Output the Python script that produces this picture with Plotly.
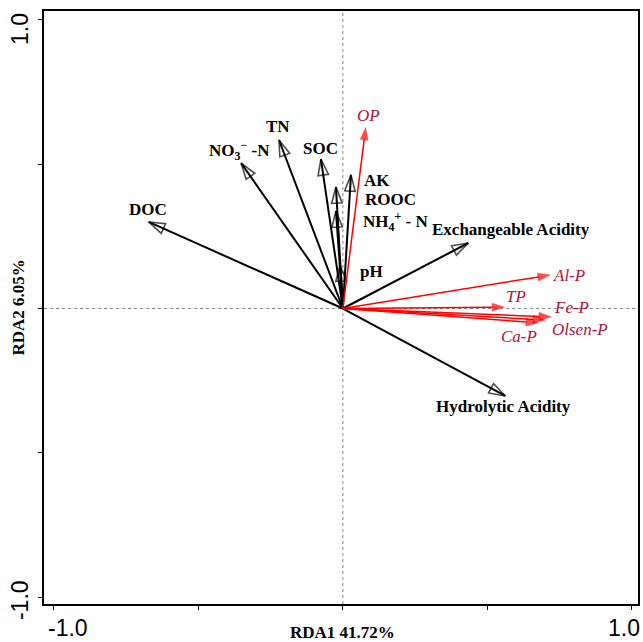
import plotly.graph_objects as go

# ---- data (RDA loadings) ----
env_names = ["DOC", "NO<sub>3</sub><sup>−</sup> -N", "TN", "SOC", "AK", "ROOC",
             "NH<sub>4</sub><sup>+</sup> - N", "pH", "Exchangeable Acidity", "Hydrolytic Acidity"]
env_x = [-0.672, -0.352, -0.221, -0.076, 0.028, -0.024, -0.024, -0.010, 0.434, 0.562]
env_y = [0.300, 0.504, 0.584, 0.518, 0.463, 0.421, 0.338, 0.151, 0.227, -0.303]

p_names = ["OP", "Al-P", "TP", "Fe-P", "Olsen-P", "Ca-P"]
p_x = [0.079, 0.717, 0.559, 0.721, 0.700, 0.676]
p_y = [0.627, 0.116, 0.005, -0.029, -0.040, -0.050]

x_title = "RDA1 41.72%"
y_title = "RDA2 6.05%"
tick_vals = [-1.0, -0.5, 0.0, 0.5, 1.0]

# ---- label offsets (px) relative to arrow tips ----
env_off = [(-1, 12), (-2, 13), (-1, 13), (0, 11), (26, -6), (55, -12), (60, -11),
           (32, -7), (43, 14), (-2, -11)]
p_off = [(3, 12), (19, 0), (12, 11), (20, 9), (35, -9), (-19, -14)]

BLACK = "black"
RED_LINE = "#FF0000"
RED_TXT = "#B4123C"
SERIF = "Liberation Serif, Times New Roman, serif"

fig = go.Figure()

for nm, x, y in zip(env_names, env_x, env_y):
    fig.add_trace(go.Scatter(
        x=[0, x], y=[0, y], mode="lines+markers", hoverinfo="skip", showlegend=False,
        line=dict(color=BLACK, width=2),
        marker=dict(symbol="arrow-open", size=[0, 17], angleref="previous",
                    color=BLACK, line=dict(color=BLACK, width=1.6))))

for nm, x, y in zip(p_names, p_x, p_y):
    fig.add_trace(go.Scatter(
        x=[0, x], y=[0, y], mode="lines+markers", hoverinfo="skip", showlegend=False,
        line=dict(color=RED_LINE, width=1.5),
        marker=dict(symbol="arrow", size=[0, 13], angleref="previous",
                    color=RED_LINE, line=dict(color=RED_LINE, width=0.5))))

ann = []
for nm, x, y, (dx, dy) in zip(env_names, env_x, env_y, env_off):
    ann.append(dict(x=x, y=y, xref="x", yref="y", text="<b>" + nm + "</b>", showarrow=False,
                    xanchor="center", yanchor="middle", xshift=dx, yshift=dy,
                    font=dict(family=SERIF, size=17, color=BLACK)))
for nm, x, y, (dx, dy) in zip(p_names, p_x, p_y, p_off):
    ann.append(dict(x=x, y=y, xref="x", yref="y", text="<i>" + nm + "</i>", showarrow=False,
                    xanchor="center", yanchor="middle", xshift=dx, yshift=dy,
                    font=dict(family=SERIF, size=17, color=RED_TXT)))

# tick labels
tick_font = dict(family="Liberation Sans, Arial, sans-serif", size=23, color=BLACK)
ann.append(dict(x=-1.0, y=0, xref="x", yref="paper", text="-1.0", showarrow=False,
                xanchor="center", yanchor="middle", xshift=14, yshift=-24, font=tick_font))
ann.append(dict(x=1.0, y=0, xref="x", yref="paper", text="1.0", showarrow=False,
                xanchor="center", yanchor="middle", xshift=-8, yshift=-24, font=tick_font))
ann.append(dict(x=0, y=1.0, xref="paper", yref="y", text="1.0", showarrow=False,
                xanchor="center", yanchor="middle",
                textangle=-90, xshift=-24, yshift=-9, font=tick_font))
ann.append(dict(x=0, y=-1.0, xref="paper", yref="y", text="-1.0", showarrow=False,
                xanchor="center", yanchor="middle",
                textangle=-90, xshift=-24, yshift=-3, font=tick_font))

# axis titles
title_font = dict(family=SERIF, size=17, color=BLACK)
ann.append(dict(x=0.502, y=0, xref="paper", yref="paper", text="<b>" + x_title + "</b>",
                showarrow=False, xanchor="center", yanchor="middle", yshift=-28, font=title_font))
ann.append(dict(x=0, y=0.5, xref="paper", yref="paper", text="<b>" + y_title + "</b>",
                showarrow=False, xanchor="center", yanchor="middle",
                textangle=-90, xshift=-26, font=title_font))

shapes = [
    dict(type="line", xref="x", yref="paper", x0=0, x1=0, y0=0, y1=1,
         line=dict(color="#888888", width=1, dash="dot"), layer="below"),
    dict(type="line", xref="paper", yref="y", x0=0, x1=1, y0=0, y1=0,
         line=dict(color="#888888", width=1, dash="dot"), layer="below"),
]

axis_common = dict(showgrid=False, zeroline=False, showline=True, mirror=True,
                   linecolor=BLACK, linewidth=1.5, ticks="outside", ticklen=4,
                   tickwidth=1, tickcolor=BLACK, tickvals=tick_vals, showticklabels=False)

fig.update_layout(
    width=643, height=642,
    margin=dict(l=44, r=3, t=11, b=38),
    paper_bgcolor="white", plot_bgcolor="white",
    xaxis=dict(range=[-1.034, 1.021], **axis_common),
    yaxis=dict(range=[-1.024, 1.031], **axis_common),
    annotations=ann, shapes=shapes,
)

# remove the default page margin so the figure sits at the window's top-left corner
fig.write_html("out.html", config={"displayModeBar": False},
               post_script="document.body.style.margin='0';document.body.style.overflow='hidden';")
